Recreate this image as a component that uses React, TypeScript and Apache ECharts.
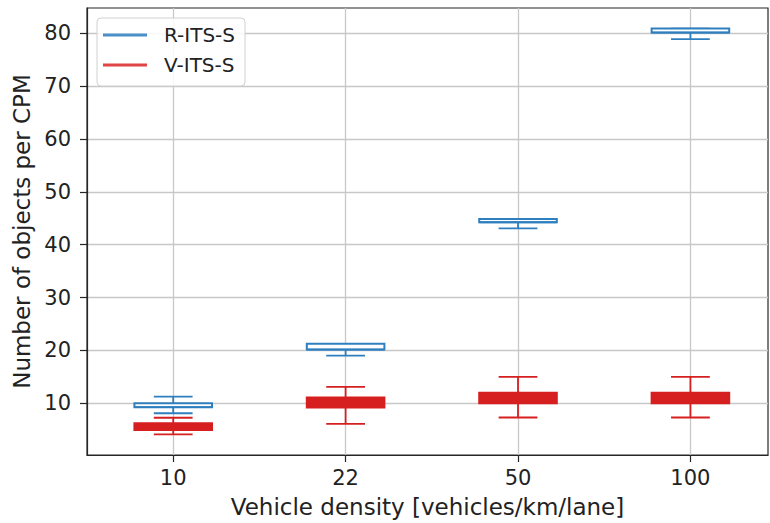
import React, { useEffect, useRef } from "react";
import * as echarts from "echarts";

const categories = ["10", "22", "50", "100"];
const positions = [1, 2, 3, 4];
const yTicks = [10, 20, 30, 40, 50, 60, 70, 80];

// R-ITS-S
const rMin = [8.1, 19.0, 43.1, 78.9];
const rQ1 = [9.25, 20.15, 44.25, 80.15];
const rMed = [9.25, 20.15, 44.25, 80.15];
const rQ3 = [10.0, 21.25, 44.85, 80.9];
const rMax = [11.25, 21.25, 44.85, 80.9];

// V-ITS-S
const vMin = [4.1, 6.1, 7.3, 7.3];
const vQ1 = [4.95, 9.2, 10.0, 10.0];
const vMed = [5.5, 10.0, 11.0, 11.0];
const vQ3 = [6.2, 11.1, 12.0, 12.0];
const vMax = [7.25, 13.1, 15.0, 15.0];

const BLUE = "#2f7fbf";
const RED = "#d61f1f";
const BOX_W = 0.45;
const FONT = "DejaVu Sans";
const TXT = "#222222";

function rows(mn: number[], q1: number[], md: number[], q3: number[], mx: number[]) {
  return positions.map((p, i) => [p, mn[i], q1[i], md[i], q3[i], mx[i]]);
}

function makeRender(color: string, filled: boolean) {
  return (params: any, api: any) => {
    const x = api.value(0);
    const pMin = api.coord([x, api.value(1)]);
    const pQ1 = api.coord([x, api.value(2)]);
    const pMed = api.coord([x, api.value(3)]);
    const pQ3 = api.coord([x, api.value(4)]);
    const pMax = api.coord([x, api.value(5)]);
    const boxW = api.size([BOX_W, 0])[0];
    const capW = boxW / 2;
    const cx = pMin[0];
    const ls = { stroke: color, lineWidth: 1.8 };
    const children: any[] = [];
    children.push({ type: "line", shape: { x1: cx, y1: pQ1[1], x2: cx, y2: pMin[1] }, style: ls });
    children.push({ type: "line", shape: { x1: cx, y1: pQ3[1], x2: cx, y2: pMax[1] }, style: ls });
    children.push({ type: "line", shape: { x1: cx - capW / 2, y1: pMin[1], x2: cx + capW / 2, y2: pMin[1] }, style: ls });
    children.push({ type: "line", shape: { x1: cx - capW / 2, y1: pMax[1], x2: cx + capW / 2, y2: pMax[1] }, style: ls });
    children.push({
      type: "rect",
      shape: { x: cx - boxW / 2, y: pQ3[1], width: boxW, height: pQ1[1] - pQ3[1] },
      style: { fill: filled ? color : "#ffffff", stroke: color, lineWidth: 2 },
    });
    children.push({ type: "line", shape: { x1: cx - boxW / 2, y1: pMed[1], x2: cx + boxW / 2, y2: pMed[1] }, style: { stroke: color, lineWidth: 1.8 } });
    return { type: "group", children };
  };
}

export default function App() {
  const ref = useRef<HTMLDivElement>(null);
  useEffect(() => {
    if (!ref.current) return;
    const chart = echarts.init(ref.current, undefined, { renderer: "svg" });
    chart.setOption({
      animation: false,
      backgroundColor: "#ffffff",
      grid: { left: 87, right: 2, top: 8, bottom: 66, show: true, borderColor: "#262626", borderWidth: 1.2, backgroundColor: "transparent" },
      legend: {
        left: 97,
        top: 18,
        orient: "vertical",
        icon: "rect",
        itemWidth: 44,
        itemHeight: 3,
        itemGap: 10,
        padding: [7, 10, 11, 6],
        borderColor: "#d0d0d0",
        borderWidth: 1,
        borderRadius: 4,
        backgroundColor: "rgba(255,255,255,0.85)",
        textStyle: { fontFamily: FONT, fontSize: 20, color: TXT, padding: [0, 0, 0, 12] },
        data: [
          { name: "R-ITS-S", itemStyle: { color: "#4a8fc9" } },
          { name: "V-ITS-S", itemStyle: { color: "#e04545" } },
        ],
      },
      xAxis: {
        type: "value",
        min: 0.5,
        max: 4.45,
        name: "Vehicle density [vehicles/km/lane]",
        nameLocation: "middle",
        nameGap: 40,
        nameTextStyle: { fontFamily: FONT, fontSize: 23, color: TXT },
        axisLine: { show: true, onZero: false, lineStyle: { color: "#262626", width: 1.2 } },
        axisTick: { show: true, customValues: positions, length: 7, lineStyle: { color: "#262626", width: 1.2 } },
        axisLabel: {
          customValues: positions,
          margin: 12,
          fontFamily: FONT,
          fontSize: 21,
          color: TXT,
          formatter: (v: number) => categories[positions.indexOf(Math.round(v))] ?? "",
        },
        splitLine: { show: true, lineStyle: { color: "#c8c8c8", width: 1.3 } },
      },
      yAxis: {
        type: "value",
        min: 0.2,
        max: 84.8,
        name: "Number of objects per CPM",
        nameLocation: "middle",
        nameGap: 50,
        nameTextStyle: { fontFamily: FONT, fontSize: 23, color: TXT },
        axisLine: { show: true, onZero: false, lineStyle: { color: "#262626", width: 1.2 } },
        axisTick: { show: true, customValues: yTicks, length: 7, lineStyle: { color: "#262626", width: 1.2 } },
        axisLabel: { customValues: yTicks, margin: 16, fontFamily: FONT, fontSize: 21, color: TXT, formatter: (v: number) => String(Math.round(v)) },
        splitLine: { show: true, lineStyle: { color: "#c8c8c8", width: 1.3 } },
      },
      series: [
        {
          name: "R-ITS-S",
          type: "custom",
          itemStyle: { color: BLUE },
          encode: { x: 0, y: [1, 2, 3, 4, 5] },
          renderItem: makeRender(BLUE, false),
          data: rows(rMin, rQ1, rMed, rQ3, rMax),
        },
        {
          name: "V-ITS-S",
          type: "custom",
          itemStyle: { color: RED },
          encode: { x: 0, y: [1, 2, 3, 4, 5] },
          renderItem: makeRender(RED, true),
          data: rows(vMin, vQ1, vMed, vQ3, vMax),
        },
      ],
    });
    return () => chart.dispose();
  }, []);
  return <div ref={ref} style={{ position: "fixed", left: 0, top: 0, width: 770, height: 523 }} />;
}
